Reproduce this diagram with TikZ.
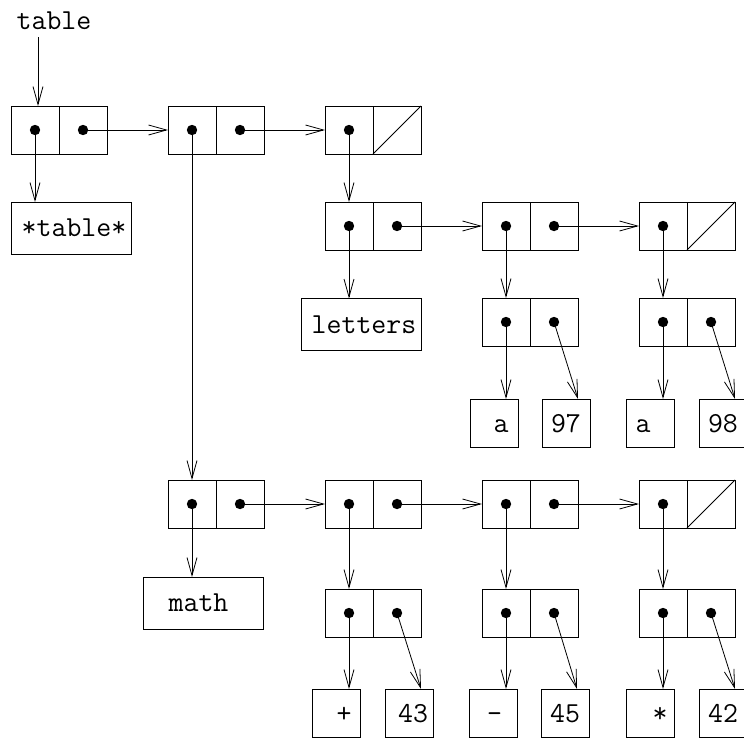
\documentclass[tikz,border=0pt]{standalone}
\usepackage{tikz}
\usetikzlibrary{arrows.meta, positioning}

\newcommand{\ttlabel}{\ttfamily\fontsize{29}{29}\selectfont}
% cons cell: name, x and y of the car centre
\newcommand{\conscell}[3]{%
  \node[cell] (#1car) at (#2,#3) {};
  \node[cell, right=0pt of #1car] (#1cdr) {};
  \fill (#1car.center) circle (5.2pt);
}

\begin{document}
\begin{tikzpicture}[x=1pt, y=-1pt, line width=0.8pt,
  cell/.style={draw, minimum width=48pt, minimum height=48pt, inner sep=0pt, outer sep=0pt},
  atom/.style={cell, font=\ttlabel, text height=18pt, text depth=0pt},
  namebox/.style={draw, minimum width=120pt, minimum height=52pt, inner sep=0pt, outer sep=0pt, font=\ttlabel},
  ptr/.style={-{Straight Barb[length=18pt, width=10pt]}}]

  \useasboundingbox (0,0) rectangle (744,739);

  % --- Symbol table spine ---
  \node[font=\ttlabel] (tbllabel) at (54,21) {table};
  \coordinate (tblfoot) at (38,37);
  \conscell{A1}{35}{130}
  \conscell{A2}{192}{130}
  \conscell{A3}{349}{130}
  \node[namebox] (tblname) at (71,228) {\hspace*{6pt}*table*};

  % --- letters sub-table ---
  \conscell{L1}{349}{226}
  \conscell{L2}{506}{226}
  \conscell{L3}{663}{226}
  \node[namebox] (letname) at (361,324.5) {\hspace*{6pt}letters};
  \conscell{LV2}{506}{322}
  \conscell{LV3}{663}{322}
  \node[atom] (a1) at (494,423) {\hspace*{14pt}a};
  \node[atom] (n97) at (566,423) {97};
  \node[atom] (a2) at (650,423) {a\hspace*{14pt}};
  \node[atom] (n98) at (723,423) {98};

  % --- math sub-table ---
  \conscell{M1}{192}{504}
  \conscell{M2}{349}{504}
  \conscell{M3}{506}{504}
  \conscell{M4}{663}{504}
  \node[namebox] (mathname) at (203.5,603) {math\hspace*{10pt}};
  \conscell{MV2}{349}{613}
  \conscell{MV3}{506}{613}
  \conscell{MV4}{663}{613}
  \node[atom] (plus) at (336,713) {\hspace*{16pt}+};
  \node[atom] (n43) at (409,713) {\hspace*{8pt}43};
  \node[atom] (minus) at (493,713) {\hspace*{3pt}-};
  \node[atom] (n45) at (565,713) {45};
  \node[atom] (star) at (650,713) {\hspace*{20pt}*};
  \node[atom] (n42) at (723,713) {42};

  % cdr dots and empty cdrs
  \foreach \c in {A1, A2, L1, L2, LV2, LV3, M1, M2, M3, MV2, MV3, MV4}
    \fill (\c cdr.center) circle (5.2pt);
  \foreach \c in {A3, L3, M4}
    \draw (\c cdr.south west) -- (\c cdr.north east);

  % --- Pointers ---
  \draw[ptr] (tblfoot) -- (tblfoot |- A1car.north);
  \foreach \p/\q in {A1/A2, A2/A3, L1/L2, L2/L3, M1/M2, M2/M3, M3/M4}
    \draw[ptr] (\p cdr.center) -- (\q car.west);
  \foreach \p/\q in {A2/M1, A3/L1, L2/LV2, L3/LV3, M2/MV2, M3/MV3, M4/MV4}
    \draw[ptr] (\p car.center) -- (\q car.north);
  \draw[ptr] (A1car.center) -- (A1car.center |- tblname.north);
  \draw[ptr] (L1car.center) -- (L1car.center |- letname.north);
  \draw[ptr] (M1car.center) -- (M1car.center |- mathname.north);

  % values
  \foreach \v/\k/\n in {LV2/a1/n97, LV3/a2/n98, MV2/plus/n43, MV3/minus/n45, MV4/star/n42} {
    \draw[ptr] (\v car.center) -- (\v car.center |- \k.north);
    \draw[ptr] (\v cdr.center) -- ([xshift=-12pt]\n.north east);
  }

\end{tikzpicture}
\end{document}
